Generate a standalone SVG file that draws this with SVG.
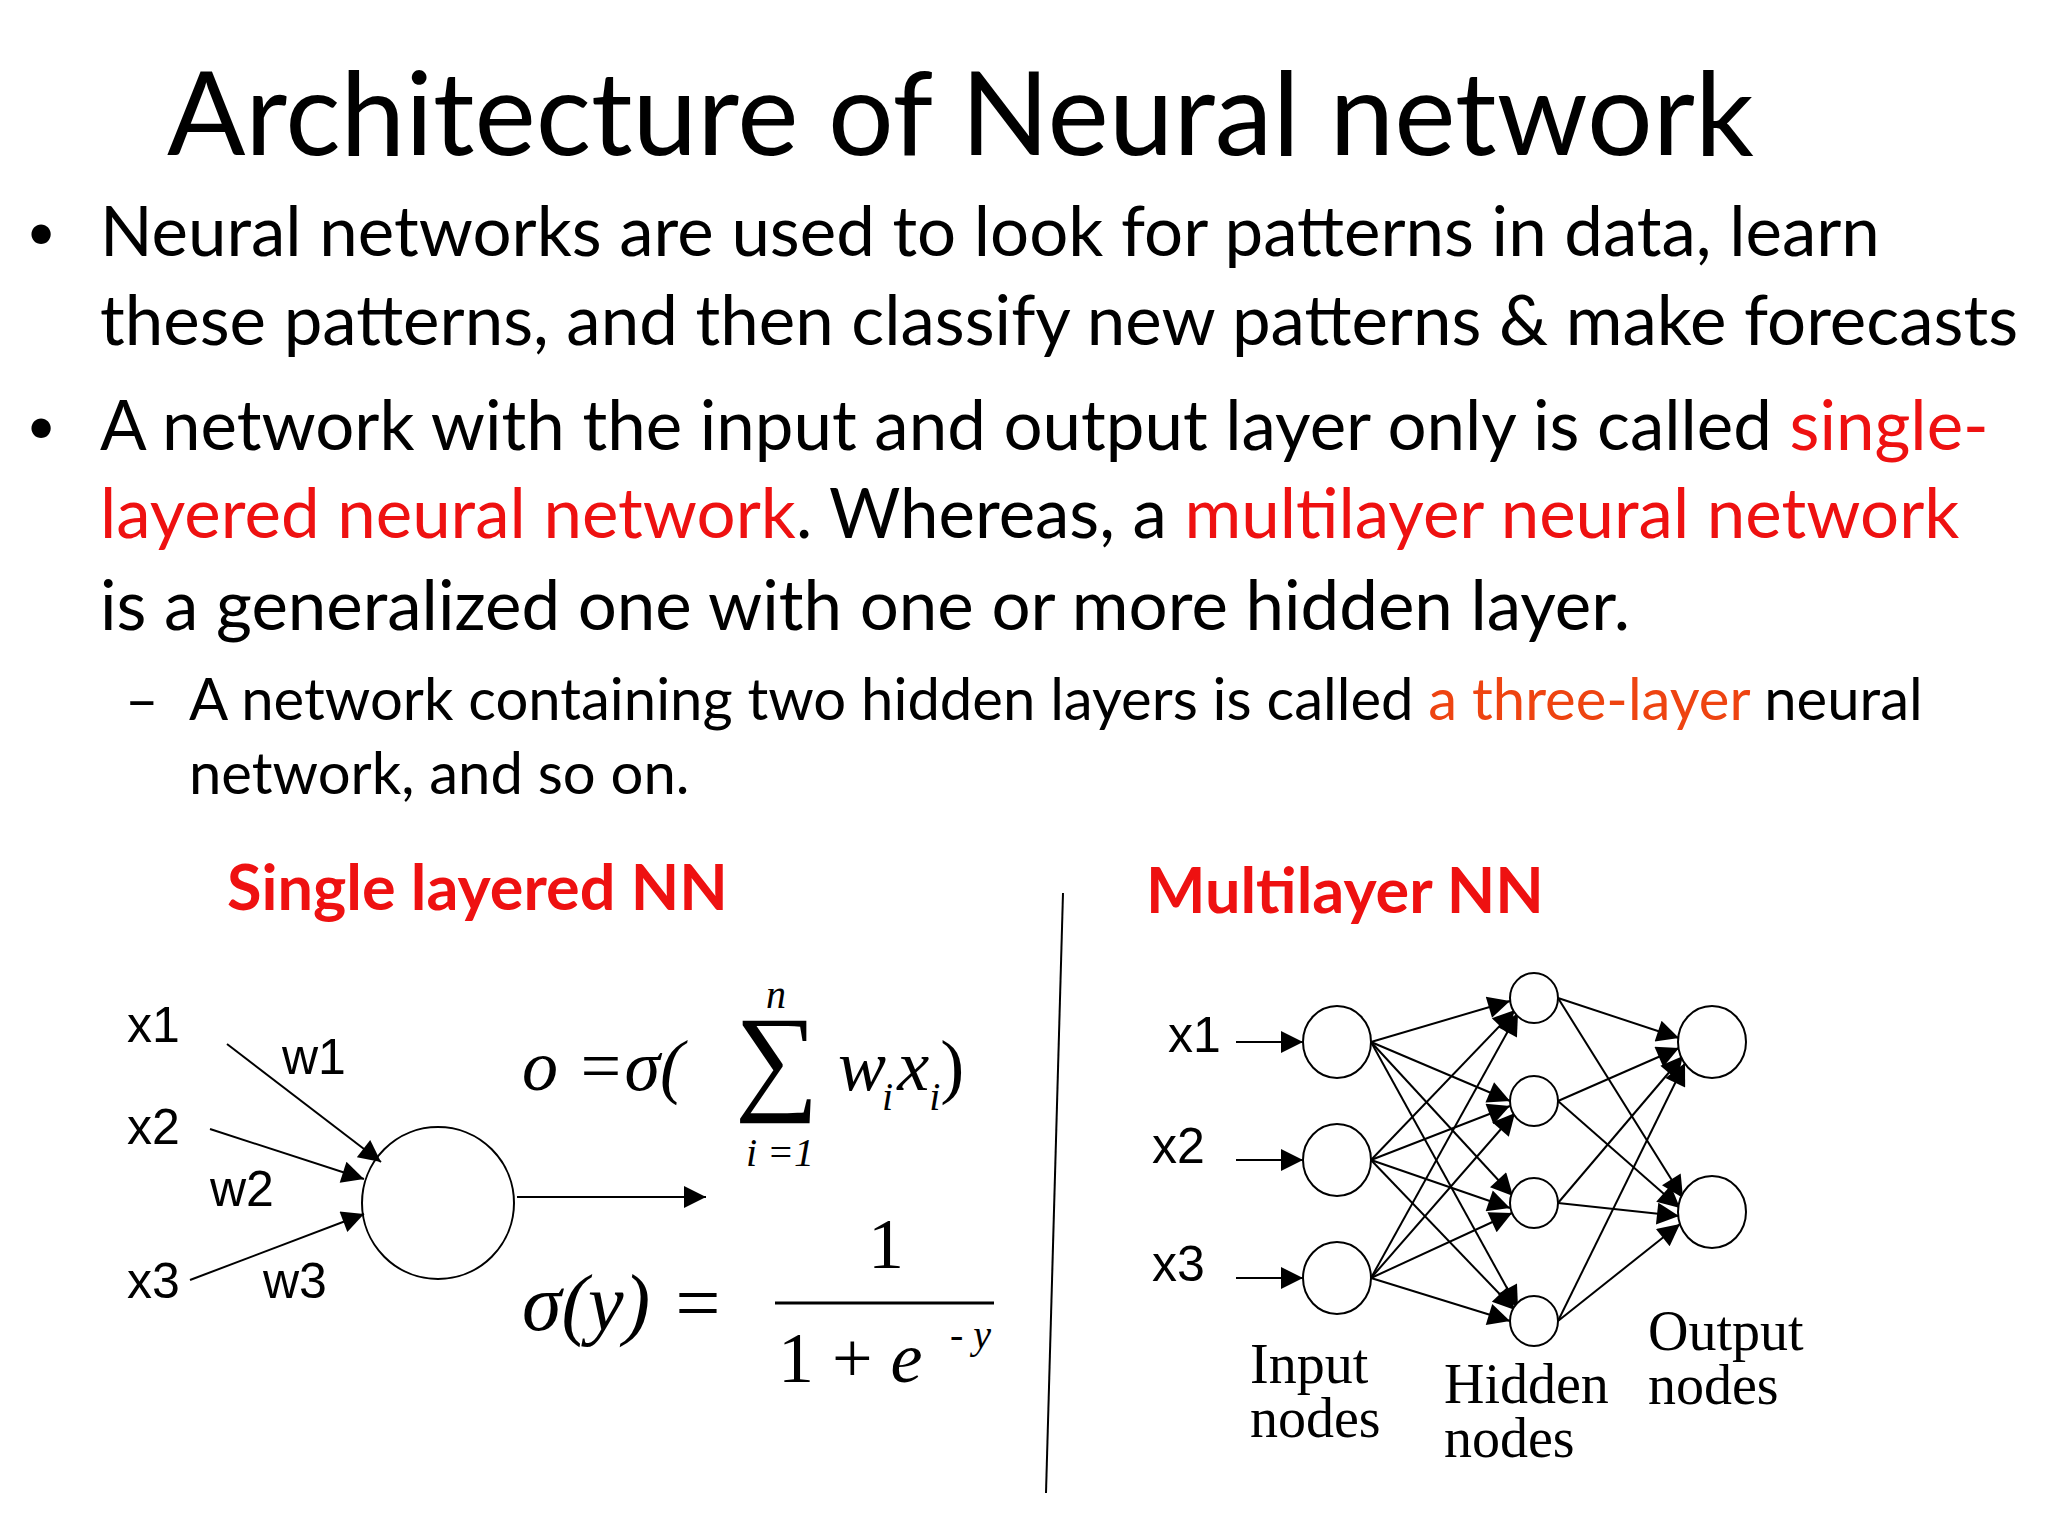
<svg xmlns="http://www.w3.org/2000/svg" width="2048" height="1536" viewBox="0 0 2048 1536">
<defs>
<marker id="ab" viewBox="0 0 10 10" refX="10" refY="5" markerWidth="26" markerHeight="22" markerUnits="userSpaceOnUse" orient="auto"><path d="M0,0L10,5L0,10z" fill="#000"/></marker>
</defs>
<style>
.t{font-family:Lato,"Open Sans",sans-serif;fill:#000}
.r{fill:#ee1111}
.o{fill:#ee4411}
.a{font-family:"Liberation Sans",Arial,sans-serif;font-size:50px}
.s{font-family:"Liberation Serif","Times New Roman",serif;font-size:56px}
.m{font-family:"Liberation Serif","Times New Roman",serif;font-style:italic}
.n{fill:#fff;stroke:#000;stroke-width:2}
.e{stroke:#000;stroke-width:2;fill:none}
</style>
<rect width="2048" height="1536" fill="#fff"/>
<text class="t" x="167" y="155" font-size="116">Architecture of Neural network</text>
<g class="t" font-size="69">
<text x="26" y="250" font-size="52">•</text>
<text x="100" y="256">Neural networks are used to look for patterns in data, learn</text>
<text x="100" y="345">these patterns, and then classify new patterns &amp; make forecasts</text>
<text x="26" y="444" font-size="52">•</text>
<text x="100" y="450">A network with the input and output layer only is called <tspan class="r">single-</tspan></text>
<text x="100" y="538"><tspan class="r">layered neural network</tspan>. Whereas, a <tspan class="r">multilayer neural network</tspan></text>
<text x="100" y="630">is a generalized one with one or more hidden layer.</text>
</g>
<g class="t" font-size="58">
<text x="125" y="720">–</text>
<text x="189" y="720">A network containing two hidden layers is called <tspan class="o">a three-layer</tspan> neural</text>
<text x="189" y="794">network, and so on.</text>
</g>
<text class="t r" x="227" y="910" font-size="63" font-weight="bold">Single layered NN</text>
<text class="t r" x="1146" y="913" font-size="63" font-weight="bold">Multilayer NN</text>
<line x1="1063" y1="893" x2="1046" y2="1493" stroke="#000" stroke-width="2"/>
<g id="single">
<g class="a"><text x="127" y="1042">x1</text><text x="127" y="1144">x2</text><text x="127" y="1298">x3</text><text x="282" y="1074">w1</text><text x="210" y="1206">w2</text><text x="263" y="1298">w3</text></g>
<circle class="n" cx="438" cy="1203" r="76"/>
<g class="e">
<line x1="227" y1="1044" x2="381" y2="1162" marker-end="url(#ab)"/>
<line x1="210" y1="1129" x2="364" y2="1179" marker-end="url(#ab)"/>
<line x1="190" y1="1280" x2="364" y2="1214" marker-end="url(#ab)"/>
<line x1="517" y1="1197" x2="706" y2="1197" marker-end="url(#ab)"/>
</g>
<g class="m">
<text x="522" y="1090" font-size="72">o =σ(</text>
<text x="735" y="1098" font-size="118" font-style="normal">∑</text>
<text x="766" y="1008" font-size="40">n</text>
<text x="746" y="1166" font-size="40">i =1</text>
<text x="838" y="1090" font-size="72">w<tspan font-size="40" dy="20" dx="-4">i</tspan><tspan dy="-20" dx="4">x</tspan><tspan font-size="40" dy="20">i</tspan><tspan dy="-20" font-style="normal">)</tspan></text>
<text x="522" y="1330" font-size="80">σ(<tspan>y</tspan>) =</text>
<text x="868" y="1268" font-size="72" font-style="normal">1</text>
<text x="778" y="1382" font-size="72"><tspan font-style="normal">1 + </tspan>e</text>
<text x="950" y="1348" font-size="40"><tspan font-style="normal">- </tspan>y</text>
</g>
<line x1="775" y1="1303" x2="994" y2="1303" stroke="#000" stroke-width="3"/>
</g>
<g id="multi">
<g class="a"><text x="1168" y="1052">x1</text><text x="1152" y="1163">x2</text><text x="1152" y="1281">x3</text></g>
<g class="e" id="connectors">
<line x1="1236" y1="1042" x2="1303" y2="1042" marker-end="url(#ab)"/>
<line x1="1236" y1="1160" x2="1303" y2="1160" marker-end="url(#ab)"/>
<line x1="1236" y1="1278" x2="1303" y2="1278" marker-end="url(#ab)"/>
<line x1="1371" y1="1042" x2="1510" y2="1001" marker-end="url(#ab)"/>
<line x1="1371" y1="1042" x2="1510" y2="1101" marker-end="url(#ab)"/>
<line x1="1371" y1="1042" x2="1513" y2="1196" marker-end="url(#ab)"/>
<line x1="1371" y1="1042" x2="1518" y2="1308" marker-end="url(#ab)"/>
<line x1="1371" y1="1160" x2="1515" y2="1010" marker-end="url(#ab)"/>
<line x1="1371" y1="1160" x2="1510" y2="1106" marker-end="url(#ab)"/>
<line x1="1371" y1="1160" x2="1510" y2="1208" marker-end="url(#ab)"/>
<line x1="1371" y1="1160" x2="1515" y2="1310" marker-end="url(#ab)"/>
<line x1="1371" y1="1278" x2="1518" y2="1013" marker-end="url(#ab)"/>
<line x1="1371" y1="1278" x2="1515" y2="1113" marker-end="url(#ab)"/>
<line x1="1371" y1="1278" x2="1512" y2="1213" marker-end="url(#ab)"/>
<line x1="1371" y1="1278" x2="1510" y2="1321" marker-end="url(#ab)"/>
<line x1="1558" y1="998" x2="1679" y2="1038" marker-end="url(#ab)"/>
<line x1="1558" y1="998" x2="1683" y2="1198" marker-end="url(#ab)"/>
<line x1="1558" y1="1101" x2="1679" y2="1048" marker-end="url(#ab)"/>
<line x1="1558" y1="1101" x2="1680" y2="1208" marker-end="url(#ab)"/>
<line x1="1558" y1="1203" x2="1683" y2="1056" marker-end="url(#ab)"/>
<line x1="1558" y1="1203" x2="1679" y2="1216" marker-end="url(#ab)"/>
<line x1="1558" y1="1321" x2="1685" y2="1063" marker-end="url(#ab)"/>
<line x1="1558" y1="1321" x2="1680" y2="1224" marker-end="url(#ab)"/>
</g>
<g id="input"><ellipse class="n" cx="1337" cy="1042" rx="34" ry="36"/><ellipse class="n" cx="1337" cy="1160" rx="34" ry="36"/><ellipse class="n" cx="1337" cy="1278" rx="34" ry="36"/></g>
<g id="hidden"><ellipse class="n" cx="1534" cy="998" rx="24" ry="25"/><ellipse class="n" cx="1534" cy="1101" rx="24" ry="25"/><ellipse class="n" cx="1534" cy="1203" rx="24" ry="25"/><ellipse class="n" cx="1534" cy="1321" rx="24" ry="25"/></g>
<g id="output"><ellipse class="n" cx="1712" cy="1042" rx="34" ry="36"/><ellipse class="n" cx="1712" cy="1212" rx="34" ry="36"/></g>
<g class="s"><text x="1250" y="1383">Input</text><text x="1250" y="1437">nodes</text><text x="1444" y="1403">Hidden</text><text x="1444" y="1457">nodes</text><text x="1648" y="1350">Output</text><text x="1648" y="1404">nodes</text></g>
</g>
</svg>
